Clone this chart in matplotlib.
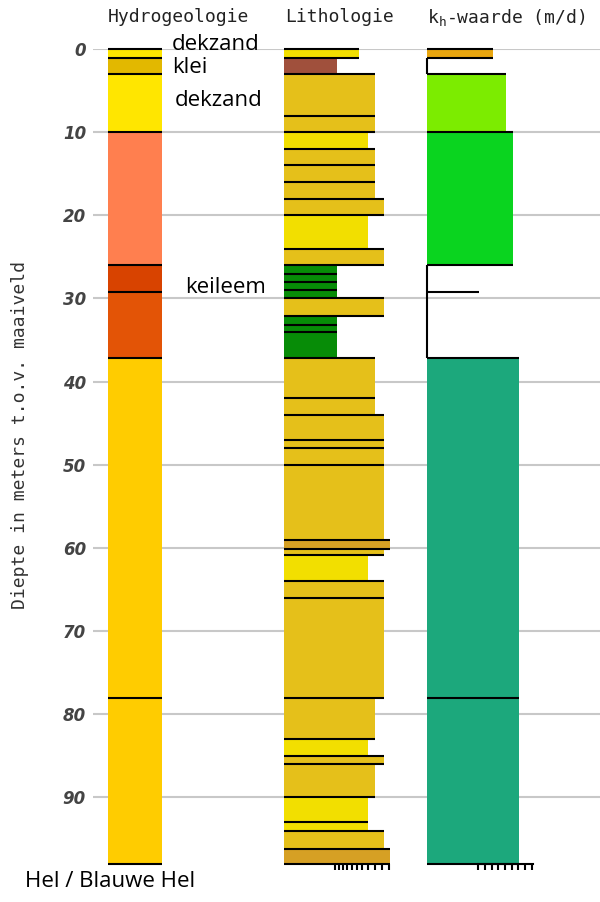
import matplotlib
matplotlib.use("Agg")
import matplotlib.pyplot as plt

# ---- data ----
# Hydrogeologie
hydro_top = [0, 1.1, 3, 10, 26, 29.2, 37.2, 78]
hydro_bot = [1.1, 3, 10, 26, 29.2, 37.2, 78, 98]
hydro_col = ['#FFE600', '#E2B800', '#FFE600', '#FF7F4F', '#D84300', '#E35406', '#FFCC00', '#FFCC00']

# Lithologie (width = grain size class)
YEL, GLD, BRN, GRN, DGL = '#F2DF00', '#E5C01A', '#A0503C', '#078C07', '#D6A024'
litho_top = [0, 1.1, 3, 8, 10, 12, 14, 16, 18, 20, 24, 26, 27, 28, 29, 30, 32.1, 33.2, 34,
             37.2, 42, 44, 47, 48, 50, 59, 60.1, 60.9, 64, 66, 78, 83, 85, 86, 90, 93, 94, 96.2]
litho_bot = litho_top[1:] + [98]
litho_w = [75, 53, 91, 91, 84, 91, 91, 91, 100, 84, 100, 53, 53, 53, 53, 100, 53, 53, 53,
           91, 91, 100, 100, 100, 100, 106, 100, 84, 100, 100, 91, 84, 100, 91, 84, 84, 100, 106]
litho_col = [YEL, BRN, GLD, GLD, YEL, GLD, GLD, GLD, GLD, YEL, GLD, GRN, GRN, GRN, GRN, GLD, GRN, GRN, GRN,
             GLD, GLD, GLD, GLD, GLD, GLD, DGL, GLD, YEL, GLD, GLD, GLD, YEL, GLD, GLD, YEL, YEL, GLD, DGL]
litho_ticks = [51, 55, 59, 63, 68, 73, 78, 84, 91, 98, 105]

# kh-waarde
k_top = [0, 1.1, 3, 10, 26, 29.2, 37.2, 78]
k_bot = [1.1, 3, 10, 26, 29.2, 37.2, 78, 98]
k_w = [66, 0, 79, 86, 52, 0, 92, 92]
k_col = ['#E9A60F', None, '#7CEC00', '#0AD41F', None, None, '#1CA87C', '#1CA87C']
k_ticks = [51, 58, 65, 71, 78, 85, 91, 98, 105]

depth_ticks = [0, 10, 20, 30, 40, 50, 60, 70, 80, 90]

# ---- figure ----
W, H = 600, 902
fig = plt.figure(figsize=(W / 100, H / 100), dpi=100)
bot = (H - 864) / H
hgt = (864 - 49) / H

ax = fig.add_axes([93 / W, bot, 1 - 93 / W, hgt])
ax.set_ylim(98, 0)
ax.set_xlim(0, 1)
for s in ax.spines.values():
    s.set_visible(False)
ax.set_xticks([])
ax.set_yticks(depth_ticks)
ax.tick_params(axis='y', length=0, pad=5)
for lab in ax.get_yticklabels():
    lab.set_fontweight('bold')
    lab.set_fontstyle('italic')
    lab.set_fontsize(12)
    lab.set_color('#444444')
for d in depth_ticks:
    ax.axhline(d, color='#C8C8C8', lw=1.5, zorder=0)


def draw_column(a, tops, bots, widths, cols):
    for t, b, w, c in zip(tops, bots, widths, cols):
        if c is None:
            a.plot([0, 0], [t, b], color='black', lw=1.5, clip_on=False, solid_capstyle='butt')
        else:
            a.barh(t, w, height=b - t, align='edge', color=c, lw=0)
    edges = tops + [bots[-1]]
    for i, d in enumerate(edges):
        wa = widths[i - 1] if i > 0 else 0
        wb = widths[i] if i < len(widths) else 0
        a.plot([0, max(wa, wb)], [d, d], color='black', lw=1.5, clip_on=False,
               solid_capstyle='butt')


def setup(a, xmax):
    a.set_xlim(0, xmax)
    a.set_ylim(98, 0)
    a.set_facecolor('none')
    for s in a.spines.values():
        s.set_visible(False)
    a.set_yticks([])


ax_h = fig.add_axes([108 / W, bot, 54 / W, hgt])
setup(ax_h, 1)
ax_h.set_xticks([])
draw_column(ax_h, hydro_top, hydro_bot, [1] * len(hydro_top), hydro_col)

ax_l = fig.add_axes([284 / W, bot, 106 / W, hgt])
setup(ax_l, 106)
draw_column(ax_l, litho_top, litho_bot, litho_w, litho_col)
ax_l.set_xticks(litho_ticks)
ax_l.tick_params(axis='x', direction='out', length=4, width=1.5, labelbottom=False)

ax_k = fig.add_axes([427 / W, bot, 106 / W, hgt])
setup(ax_k, 106)
draw_column(ax_k, k_top, k_bot, k_w, k_col)
ax_k.plot([k_ticks[0], 106], [98, 98], color='black', lw=1.5, clip_on=False)
ax_k.set_xticks(k_ticks)
ax_k.tick_params(axis='x', direction='out', length=4, width=1.5, labelbottom=False)

# titles
mono = dict(family='DejaVu Sans Mono', fontsize=13, color='#222222', va='center')
fig.text(108 / W, 1 - 17 / H, 'Hydrogeologie', **mono)
fig.text(285 / W, 1 - 17 / H, 'Lithologie', **mono)
fig.text(427 / W, 1 - 17 / H, 'k$_\\mathregular{h}$-waarde (m/d)', **mono)
fig.text(20 / W, 1 - 435 / H, 'Diepte in meters t.o.v. maaiveld', rotation=90,
         family='DejaVu Sans Mono', fontsize=13, color='#333333', va='center', ha='center')

# annotations
ann = dict(family='Open Sans', fontsize=16, color='black', va='baseline')
fig.text(172 / W, 1 - 50 / H, 'dekzand', **ann)
fig.text(172 / W, 1 - 73 / H, 'klei', **ann)
fig.text(175 / W, 1 - 106 / H, 'dekzand', **ann)
fig.text(185 / W, 1 - 293 / H, 'keileem', **ann)
fig.text(25 / W, 1 - 887 / H, 'Hel / Blauwe Hel', **ann)

fig.savefig('out.png', dpi=100)
